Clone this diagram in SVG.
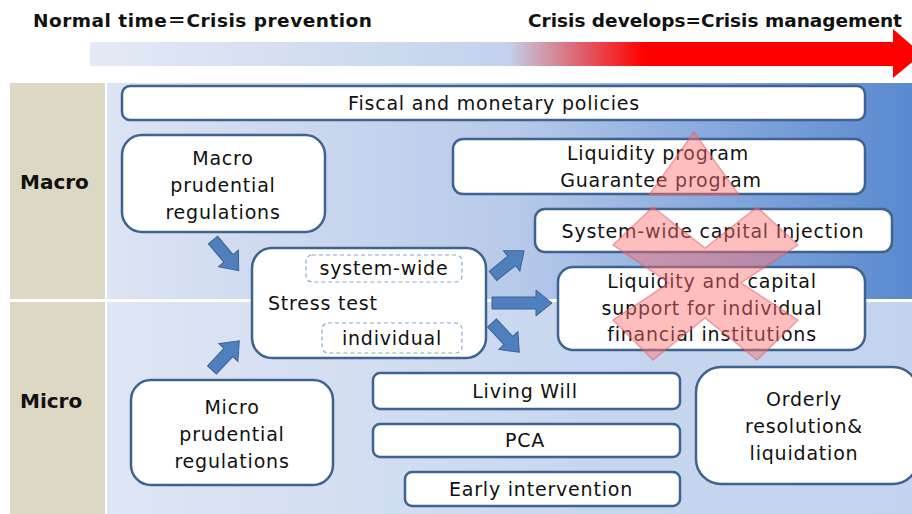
<svg xmlns="http://www.w3.org/2000/svg" width="912" height="514" viewBox="0 0 912 514">
  <defs>
    <linearGradient id="timeBar" gradientUnits="userSpaceOnUse" x1="90" y1="0" x2="893" y2="0">
      <stop offset="0" stop-color="#E4EAF5"/>
      <stop offset="0.52" stop-color="#C3D2EC"/>
      <stop offset="0.6" stop-color="#DA6E7C"/>
      <stop offset="0.69" stop-color="#FF0000"/>
      <stop offset="1" stop-color="#FF0000"/>
    </linearGradient>
    <linearGradient id="macroBg" gradientUnits="userSpaceOnUse" x1="107" y1="0" x2="905" y2="0">
      <stop offset="0" stop-color="#DDE4F3"/>
      <stop offset="0.5" stop-color="#B9CBEA"/>
      <stop offset="1" stop-color="#5A8AD0"/>
    </linearGradient>
    <linearGradient id="microBg" gradientUnits="userSpaceOnUse" x1="107" y1="0" x2="912" y2="0">
      <stop offset="0" stop-color="#DFE6F4"/>
      <stop offset="0.6" stop-color="#C7D6EF"/>
      <stop offset="1" stop-color="#C4D4EE"/>
    </linearGradient>
    <path id="arrowShort" d="M0,-6 H24 V-13 L40,0 L24,13 V6 H0 Z"/>
    <path id="arrowLong" d="M0,-6 H44 V-13 L60,0 L44,13 V6 H0 Z"/>
  </defs>
  <style>
    .box { fill: #FFFFFF; stroke: #3F6290; stroke-width: 2.5; }
    .dash { fill: #FFFFFF; stroke: #8AA6D0; stroke-width: 1.2; stroke-dasharray: 4 3; }
    .t { font-family: "DejaVu Sans", "Noto Sans", sans-serif; font-size: 19px; letter-spacing: 0.8px; fill: #111111; text-anchor: middle; }
    .tl { text-anchor: start; }
    .hdr { font-family: "DejaVu Sans", "Noto Sans CJK JP", sans-serif; font-size: 18.5px; font-weight: bold; fill: #111111; }
    .fw { font-family: "Noto Sans CJK JP", sans-serif; }
    .side { font-family: "DejaVu Sans", sans-serif; font-size: 20px; font-weight: bold; fill: #111111; }
    .arw use { fill: #4F7FBC; stroke: #3A6396; stroke-width: 1; }
    .cross { fill: #FF6F6F; fill-opacity: 0.45; stroke: #E45A66; stroke-opacity: 0.5; stroke-width: 1.5; }
  </style>

  <rect width="912" height="514" fill="#FFFFFF"/>

  <!-- timeline -->
  <g id="timeline">
    <text class="hdr" x="33" y="27" letter-spacing="0.5">Normal time<tspan class="fw">＝</tspan>Crisis prevention</text>
    <text class="hdr" x="528" y="27">Crisis develops=Crisis management</text>
    <rect x="90" y="42" width="804" height="24" fill="url(#timeBar)"/>
    <polygon points="893,29 893,78 922,54" fill="#FF0000"/>
  </g>

  <!-- panels -->
  <g id="panels">
    <rect x="10" y="83" width="95" height="216" fill="#DDD8C3"/>
    <rect x="10" y="302" width="95" height="212" fill="#DDD8C3"/>
    <rect x="107" y="83" width="805" height="216" fill="url(#macroBg)"/>
    <rect x="107" y="302" width="805" height="212" fill="url(#microBg)"/>
    <text class="side" x="20" y="189">Macro</text>
    <text class="side" x="20" y="408">Micro</text>
  </g>

  <g id="fiscal">
    <rect class="box" x="122" y="86" width="743" height="34" rx="8"/>
    <text class="t" x="494" y="110">Fiscal and monetary policies</text>
  </g>

  <g id="macro-prudential">
    <rect class="box" x="122" y="135" width="203" height="97" rx="20"/>
    <text class="t" x="223" y="165">Macro</text>
    <text class="t" x="223" y="192">prudential</text>
    <text class="t" x="223" y="219">regulations</text>
  </g>

  <g id="liquidity-program">
    <rect class="box" x="453" y="139" width="412" height="55" rx="10"/>
    <text class="t" x="658" y="160">Liquidity program</text>
    <text class="t" x="661" y="187">Guarantee program</text>
  </g>

  <g id="capital-injection">
    <rect class="box" x="535" y="209" width="357" height="43" rx="10"/>
    <text class="t" x="713" y="238">System-wide capital Injection</text>
  </g>

  <g id="individual-support">
    <rect class="box" x="558" y="267" width="307" height="83" rx="15"/>
    <text class="t" x="712" y="288">Liquidity and capital</text>
    <text class="t" x="712" y="315">support for individual</text>
    <text class="t" x="712" y="341">financial institutions</text>
  </g>

  <g id="stress-test">
    <rect class="box" x="252" y="248" width="234" height="110" rx="20"/>
    <rect class="dash" x="306" y="255" width="156" height="27" rx="6"/>
    <text class="t" x="384" y="275">system-wide</text>
    <text class="t tl" x="268" y="310">Stress test</text>
    <rect class="dash" x="322" y="323" width="140" height="30" rx="6"/>
    <text class="t" x="392" y="345">individual</text>
  </g>

  <g id="micro-prudential">
    <rect class="box" x="131" y="380" width="202" height="105" rx="20"/>
    <text class="t" x="232" y="414">Micro</text>
    <text class="t" x="232" y="441">prudential</text>
    <text class="t" x="232" y="468">regulations</text>
  </g>

  <g id="living-will">
    <rect class="box" x="373" y="373" width="307" height="36" rx="7"/>
    <text class="t" x="525" y="398">Living Will</text>
  </g>

  <g id="pca">
    <rect class="box" x="373" y="424" width="307" height="33" rx="7"/>
    <text class="t" x="525" y="447">PCA</text>
  </g>

  <g id="early-intervention">
    <rect class="box" x="405" y="472" width="275" height="34" rx="7"/>
    <text class="t" x="541" y="496">Early intervention</text>
  </g>

  <g id="orderly-resolution">
    <rect class="box" x="696" y="367" width="222" height="117" rx="25"/>
    <text class="t" x="804" y="406">Orderly</text>
    <text class="t" x="804" y="433">resolution&amp;</text>
    <text class="t" x="804" y="460">liquidation</text>
  </g>

  <!-- connectors -->
  <g id="connectors" class="arw">
    <use href="#arrowShort" transform="translate(213,240) rotate(50)"/>
    <use href="#arrowShort" transform="translate(212,370) rotate(-47)"/>
    <use href="#arrowShort" transform="translate(493,276) rotate(-39)"/>
    <use href="#arrowLong" transform="translate(492,303)"/>
    <use href="#arrowShort" transform="translate(492,323) rotate(47)"/>
  </g>

  <!-- translucent cross over the crisis-management measures -->
  <g id="cross">
    <polygon class="cross" points="694,132 739,195 649,195"/>
    <polygon class="cross" points="653,207 705,248 757,207 798,245 741,283 798,320 757,360 705,318 653,360 613,320 669,283 613,245"/>
  </g>
</svg>
